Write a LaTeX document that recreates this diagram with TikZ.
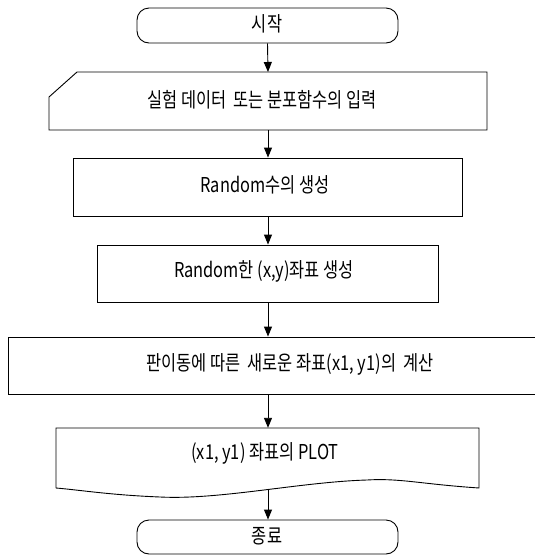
\documentclass[tikz,border=0pt]{standalone}
\usepackage{fontspec}
\setmainfont[FakeStretch=0.8]{Noto Sans CJK KR}
\usetikzlibrary{arrows.meta}
\begin{document}
\begin{tikzpicture}[x=1pt,y=-1pt,
  every node/.style={inner sep=0pt,font=\fontsize{20.5}{24}\selectfont},
  shp/.style={draw=black,line width=0.9pt},
  box/.style={shp,rectangle},
  flow/.style={draw=black,line width=0.9pt,-{Triangle[length=10pt,width=8pt]}}]
\useasboundingbox (0,0) rectangle (535,555);
% start terminator
\node[box,rounded corners=12pt,minimum width=261pt,minimum height=35pt] (start) at (267.5,25.5) {};
\node at (267,24) {시작};
% manual input
\coordinate (inTop) at (268,72);
\node[minimum width=438pt,minimum height=58pt] (input) at (268,101) {};
\draw[shp] (49,97) -- (77,72) -- (487,72) -- (487,130) -- (49,130) -- cycle;
\node at (262,100) {실험 데이터\ \ 또는 분포함수의 입력};
% process boxes
\node[box,minimum width=389pt,minimum height=58pt] (rnd) at (267.5,187) {};
\node at (265,185) {Random수의 생성};
\node[box,minimum width=341pt,minimum height=57pt] (xy) at (267.5,273.5) {};
\node at (264,271) {Random한 (x,y)좌표 생성};
\node[box,minimum width=564pt,minimum height=57pt] (calc) at (290,365.5) {};
\node at (290,364) {판이동에 따른\ \ 새로운 좌표(x1, y1)의\ \ 계산};
% document
\node[minimum width=423pt,minimum height=60pt] (doc) at (267.5,458) {};
\draw[shp] (56,488) -- (56,428) -- (479,428) -- (479,488)
  .. controls (420,484) and (400,478) .. (367,480)
  .. controls (300,482) and (220,500) .. (160,497)
  .. controls (110,495) and (80,490) .. (56,488);
\coordinate (docBot) at (268,489);
\node at (265,453) {(x1, y1) 좌표의 PLOT};
% end terminator
\node[box,rounded corners=12pt,minimum width=261pt,minimum height=34pt] (end) at (267.5,537) {};
\node at (267,536) {종료};
% connectors
\draw[flow] (start.south) -- (inTop);
\draw[flow] (268,130) -- (rnd.north -| 268,0);
\draw[flow] (rnd.south -| 268,0) -- (xy.north -| 268,0);
\draw[flow] (xy.south -| 268,0) -- (calc.north -| 268,0);
\draw[flow] (calc.south -| 268,0) -- (doc.north -| 268,0);
\draw[flow] (docBot) -- (end.north -| 268,0);
\end{tikzpicture}
\end{document}
